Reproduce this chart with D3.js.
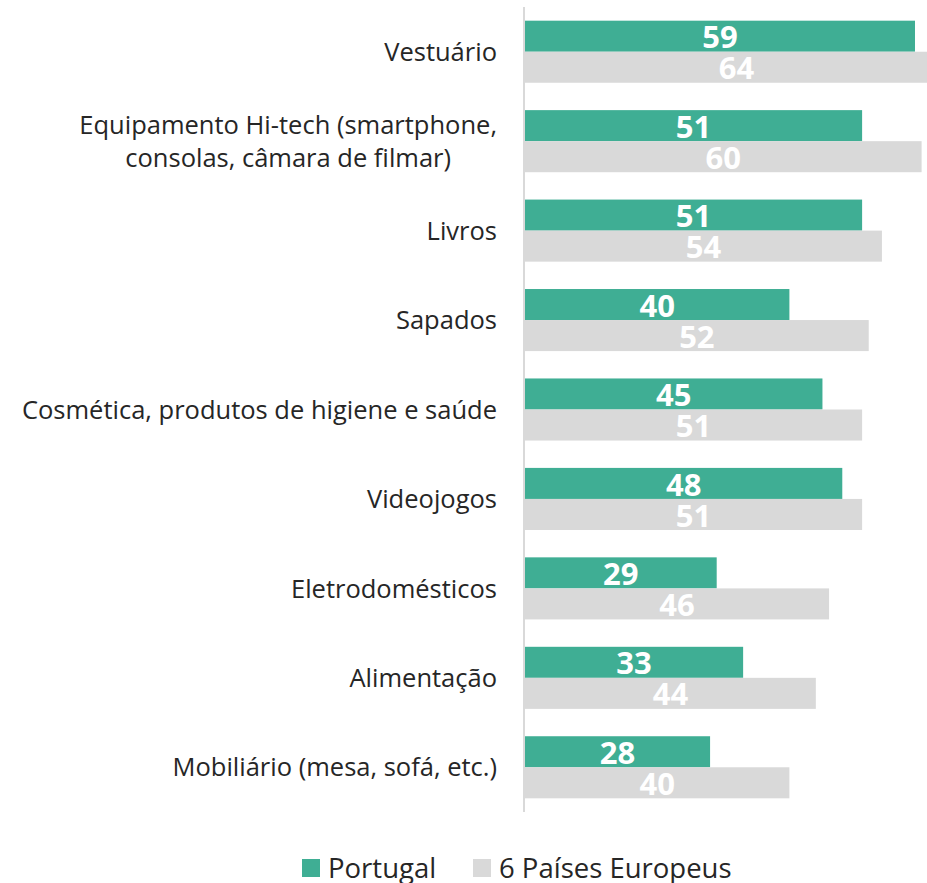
<!DOCTYPE html>
<html>
<head>
<meta charset="utf-8">
<script src="https://cdn.jsdelivr.net/npm/d3@7"></script>
<style>
  body { margin: 0; background: #fff; }
  svg { display: block; font-family: "Open Sans", sans-serif; }
</style>
</head>
<body>
<div id="chart"></div>
<script>
// categories (top to bottom), each can have several lines
const categories = [
    ["Vestuário"],
    ["Equipamento Hi-tech (smartphone,", "consolas, câmara de filmar)"],
    ["Livros"],
    ["Sapados"],
    ["Cosmética, produtos de higiene e saúde"],
    ["Videojogos"],
    ["Eletrodomésticos"],
    ["Alimentação"],
    ["Mobiliário (mesa, sofá, etc.)"]
];
const portugal = [59, 51, 51, 40, 45, 48, 29, 33, 28];
const europa = [64, 60, 54, 52, 51, 51, 46, 44, 40];
const seriesNames = ["Portugal", "6 Países Europeus"];
const seriesColors = ["#3fae94", "#d9d9d9"];

const width = 927, height = 883;

const svg = d3.select("#chart")
    .append("svg")
    .attr("width", width)
    .attr("height", height);

const idx = d3.range(categories.length);

const y = d3.scaleBand()
    .domain(idx)
    .range([7, 812])
    .paddingInner(0.306)
    .paddingOuter(0.153);

const ySub = d3.scaleBand()
    .domain([0, 1])
    .range([0, y.bandwidth()]);

const x = d3.scaleLinear()
    .domain([0, 70])
    .range([525, 525 + 70 * 6.61]);

// bars
const groups = svg.selectAll(".grp")
    .data(idx)
    .enter()
    .append("g")
    .attr("class", "grp")
    .attr("transform", function (i) { return "translate(0," + y(i) + ")"; });

groups.each(function (i) {
    const g = d3.select(this);
    const vals = [portugal[i], europa[i]];
    vals.forEach(function (v, s) {
        g.append("rect")
            .attr("x", x(0))
            .attr("y", ySub(s))
            .attr("width", x(v) - x(0))
            .attr("height", ySub.bandwidth())
            .style("fill", seriesColors[s]);
        g.append("text")
            .text(v)
            .attr("x", (x(0) + x(v)) / 2)
            .attr("y", ySub(s) + ySub.bandwidth() / 2 + 1)
            .attr("dy", "0.36em")
            .style("text-anchor", "middle")
            .style("font-weight", "bold")
            .style("font-size", "31px")
            .style("fill", "#fff");
    });
});

// axis line
svg.append("line")
    .attr("x1", 524).attr("x2", 524)
    .attr("y1", y.range()[0]).attr("y2", y.range()[1])
    .style("stroke", "#d9d9d9")
    .style("stroke-width", 2);

// category labels
const lineH = 33;
idx.forEach(function (i) {
    const lines = categories[i];
    const t = svg.append("text")
        .style("font-size", "25.5px")
        .style("fill", "#262626")
        .style("text-anchor", "middle");
    const cy = y(i) + y.bandwidth() / 2;
    lines.forEach(function (l, k) {
        t.append("tspan")
            .text(l)
            .attr("y", cy + (k - (lines.length - 1) / 2) * lineH)
            .attr("dy", "0.36em");
    });
    let maxW = 0;
    t.selectAll("tspan").each(function () {
        maxW = Math.max(maxW, this.getComputedTextLength());
    });
    t.selectAll("tspan").attr("x", 497 - maxW / 2);
});

// legend
const legendX = [302, 473];
seriesNames.forEach(function (name, s) {
    svg.append("rect")
        .attr("x", legendX[s])
        .attr("y", 859)
        .attr("width", 18)
        .attr("height", 18)
        .style("fill", seriesColors[s]);
    svg.append("text")
        .text(name)
        .attr("x", legendX[s] + 26)
        .attr("y", 868)
        .attr("dy", "0.36em")
        .style("font-size", "27.5px")
        .style("fill", "#262626");
});
</script>
</body>
</html>
